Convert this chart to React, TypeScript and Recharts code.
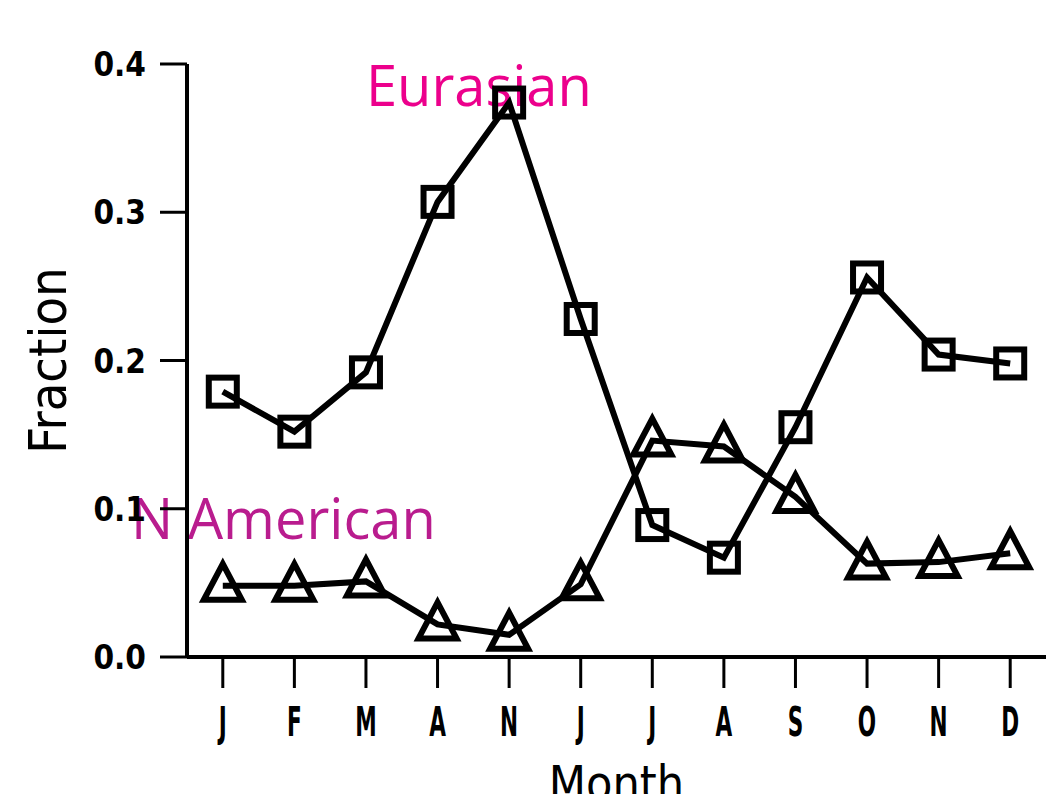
import React from "react";
import { LineChart, Line, XAxis, YAxis } from "recharts";

const MONTHS = ["J", "F", "M", "A", "N", "J", "J", "A", "S", "O", "N", "D"];
const EURASIAN = [0.179, 0.152, 0.192, 0.307, 0.374, 0.228, 0.089, 0.067, 0.155, 0.256, 0.204, 0.198];
const N_AMERICAN = [0.048, 0.048, 0.051, 0.022, 0.015, 0.049, 0.146, 0.142, 0.108, 0.063, 0.064, 0.07];
const Y_TICKS = [0, 0.1, 0.2, 0.3, 0.4];

const data = MONTHS.map((label, i) => ({
  m: i + 1,
  label,
  eurasian: EURASIAN[i],
  namerican: N_AMERICAN[i],
}));

const PIXEL_FONT = "'DejaVu Sans Condensed', 'Liberation Sans Narrow', 'DejaVu Sans', sans-serif";

const SquareDot = (props: any) => {
  const { cx, cy, index } = props;
  if (cx == null || cy == null) return null;
  return (
    <rect
      key={`sq-${index}`}
      x={cx - 14}
      y={cy - 14}
      width={28}
      height={28}
      fill="none"
      stroke="#000"
      strokeWidth={6}
    />
  );
};

const TriangleDot = (props: any) => {
  const { cx, cy, index } = props;
  if (cx == null || cy == null) return null;
  const d = `M${cx},${cy - 22} L${cx + 19},${cy + 14} L${cx - 19},${cy + 14} Z`;
  return <path key={`tr-${index}`} d={d} fill="none" stroke="#000" strokeWidth={6} strokeLinejoin="miter" />;
};

const XTick = (props: any) => {
  const { x, y, payload } = props;
  return (
    <text
      transform={`translate(${x},${y + 46}) scale(0.6,1)`}
      textAnchor="middle"
      fontFamily={PIXEL_FONT}
      fontSize={40}
      fontWeight="bold"
      fill="#000"
    >
      {MONTHS[payload.value - 1]}
    </text>
  );
};

const YTick = (props: any) => {
  const { x, y, payload } = props;
  return (
    <text
      x={x}
      y={y + 12}
      textAnchor="end"
      fontFamily={PIXEL_FONT}
      fontSize={33}
      fontWeight="bold"
      fill="#000"
    >
      {payload.value.toFixed(1)}
    </text>
  );
};

export default function App() {
  return (
    <div style={{ position: "absolute", left: 0, top: 0, width: 1057, height: 794, background: "#fff", overflow: "hidden" }}>
      <div
        style={{
          position: "absolute",
          left: 366,
          top: 44,
          fontFamily: "'Open Sans', 'Noto Sans', sans-serif",
          fontSize: 56,
          lineHeight: "80px",
          color: "#EC008C",
          whiteSpace: "nowrap",
        }}
      >
        Eurasian
      </div>
      <div
        style={{
          position: "absolute",
          left: 131,
          top: 477,
          fontFamily: "'Open Sans', 'Noto Sans', sans-serif",
          fontSize: 56,
          lineHeight: "80px",
          color: "#B91C8E",
          whiteSpace: "nowrap",
        }}
      >
        N American
      </div>
      <div style={{ position: "absolute", left: 0, top: 0 }}>
        <LineChart width={1057} height={794} data={data} margin={{ top: 64, right: 11, left: 0, bottom: 0 }}>
          <XAxis
            dataKey="m"
            type="number"
            domain={[0.5, 12.5]}
            ticks={data.map((d) => d.m)}
            height={137}
            tickSize={31}
            axisLine={{ stroke: "#000", strokeWidth: 4 }}
            tickLine={{ stroke: "#000", strokeWidth: 3 }}
            tick={<XTick />}
            label={{
              value: "Month",
              position: "insideBottom",
              offset: -6,
              fontFamily: PIXEL_FONT,
              fontSize: 48,
              fill: "#000",
            }}
          />
          <YAxis
            type="number"
            domain={[0, 0.4]}
            ticks={Y_TICKS}
            width={187}
            tickSize={27}
            tickMargin={14}
            axisLine={{ stroke: "#000", strokeWidth: 4 }}
            tickLine={{ stroke: "#000", strokeWidth: 3 }}
            tick={<YTick />}
            label={{
              value: "Fraction",
              angle: -90,
              position: "insideLeft",
              offset: 48,
              fontFamily: PIXEL_FONT,
              fontSize: 52,
              fill: "#000",
              style: { textAnchor: "middle" },
            }}
          />
          <Line
            dataKey="eurasian"
            stroke="#000"
            strokeWidth={6}
            dot={<SquareDot />}
            isAnimationActive={false}
            type="linear"
          />
          <Line
            dataKey="namerican"
            stroke="#000"
            strokeWidth={6}
            dot={<TriangleDot />}
            isAnimationActive={false}
            type="linear"
          />
        </LineChart>
      </div>
    </div>
  );
}
